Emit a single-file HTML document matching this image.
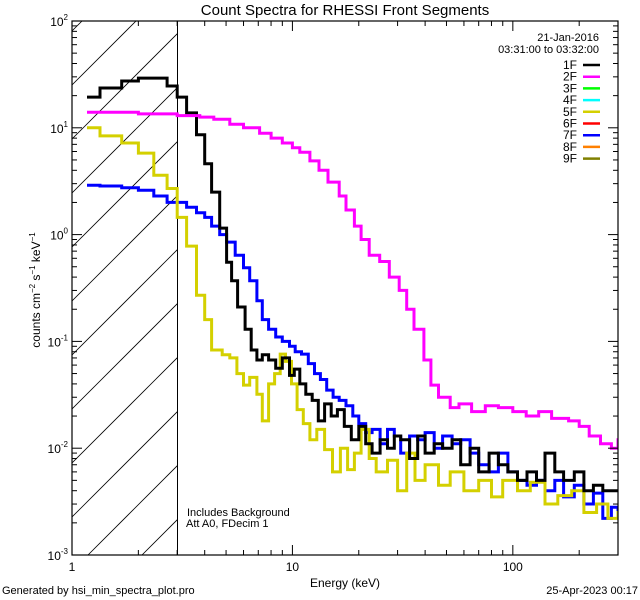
<!DOCTYPE html>
<html><head><meta charset="utf-8"><style>
html,body{margin:0;padding:0;background:#fff;width:640px;height:600px;overflow:hidden;}
svg{display:block;font-family:"Liberation Sans",sans-serif;}
</style></head><body>
<svg id="c" width="640" height="600" viewBox="0 0 640 600">
<defs><clipPath id="hclip"><rect x="72" y="21" width="105.5" height="534"/></clipPath>
<clipPath id="pclip"><rect x="72" y="21" width="546" height="534"/></clipPath></defs>
<text x="345" y="15" font-size="15" text-anchor="middle">Count Spectra for RHESSI Front Segments</text>
<g id="hatch" clip-path="url(#hclip)"></g>
<line x1="177.5" y1="21" x2="177.5" y2="555" stroke="#000" stroke-width="1"/>
<g id="series" clip-path="url(#pclip)"></g>
<rect x="72" y="21" width="546" height="534" fill="none" stroke="#000" stroke-width="1.2"/>
<g id="axes"></g>
<text x="345" y="587" font-size="12" text-anchor="middle">Energy (keV)</text>
<text transform="translate(40,290) rotate(-90)" font-size="12" text-anchor="middle">counts cm<tspan dy="-5" font-size="8">−2</tspan><tspan dy="5"> s</tspan><tspan dy="-5" font-size="8">−1</tspan><tspan dy="5"> keV</tspan><tspan dy="-5" font-size="8">−1</tspan></text>
<text x="599" y="41" font-size="11" text-anchor="end">21-Jan-2016</text>
<text x="599" y="53" font-size="11" text-anchor="end">03:31:00 to 03:32:00</text>
<g id="legend"></g>
<text x="187" y="516" font-size="11">Includes Background</text>
<text x="186" y="527" font-size="11">Att A0, FDecim 1</text>
<text x="2" y="594" font-size="11">Generated by hsi_min_spectra_plot.pro</text>
<text x="638" y="594" font-size="11" text-anchor="end">25-Apr-2023 00:17</text>
</svg>
<script>
const legendLabels=["1F","2F","3F","4F","5F","6F","7F","8F","9F"];
const legendColors=["#000000","#ff00ff","#00ff00","#00ffff","#d4d000","#ff0000","#0000ff","#ff8000","#808000"];
const xTickLabels=["1","10","100"];
const yTickExps=[-3,-2,-1,0,1,2];
// series: 1F black
const e1=[1.17,1.34,1.68,2.0,2.7,3.0,3.31,3.67,4.0,4.3,4.68,5.03,5.3,5.64,6.1,6.5,6.9,7.3,7.8,8.4,9.0,9.7,10.2,10.8,11.5,12.3,13.1,14.0,15.0,16.0,17.2,18.5,20,21.5,23,25,27,29,31,34,37,40,44,48,53,58,64,70,78,86,95,105,116,128,140,155,170,190,210,232,256,280,300];
const v1=[19.4,23.6,27.4,29.2,24.6,19.4,13.8,8.6,4.6,2.5,1.15,0.55,0.37,0.21,0.13,0.083,0.067,0.075,0.067,0.056,0.07,0.048,0.055,0.04,0.032,0.028,0.018,0.026,0.02,0.023,0.016,0.012,0.016,0.011,0.009,0.012,0.01,0.013,0.012,0.008,0.013,0.009,0.011,0.01,0.012,0.007,0.01,0.006,0.009,0.007,0.006,0.005,0.006,0.005,0.009,0.006,0.005,0.006,0.004,0.0045,0.004,0.004,0.004];
// 2F magenta
const e2=[1.17,2.0,3.0,3.8,4.4,5.2,6.0,7.1,8.0,9.0,10.0,10.8,12.0,13.2,14.5,16.3,17.5,19.1,20.5,22.3,24.9,27.5,30.5,33,35.6,39.5,42.5,46,52,57,65,75,86,100,115,131,150,179,200,222,250,280,300];
const v2=[14,13.5,13,12.6,12,10.8,10,8.9,8,7.2,6.5,5.9,4.9,4.0,3.1,2.3,1.7,1.2,0.9,0.64,0.56,0.4,0.30,0.2,0.13,0.067,0.039,0.03,0.024,0.026,0.022,0.025,0.024,0.022,0.02,0.022,0.019,0.018,0.016,0.013,0.011,0.01,0.012];
// 5F yellow
const e5=[1.17,1.34,1.68,2.0,2.35,2.7,3.0,3.31,3.67,4.0,4.3,4.8,5.2,5.6,6.0,6.4,6.9,7.3,7.8,8.3,8.8,9.3,9.9,10.5,11.2,12.0,12.9,14.0,15.2,16.5,17.8,19.1,20.5,22.3,24,27,30,33,36,40,46,52,60,70,80,90,105,120,140,160,185,210,240,270,300];
const v5=[10,8.4,7.2,5.8,3.6,2.7,1.45,0.78,0.27,0.16,0.083,0.075,0.07,0.05,0.039,0.046,0.032,0.018,0.04,0.05,0.076,0.065,0.04,0.023,0.017,0.012,0.015,0.0097,0.006,0.01,0.0063,0.009,0.015,0.008,0.006,0.0077,0.004,0.009,0.005,0.007,0.0045,0.006,0.004,0.005,0.0035,0.005,0.004,0.0048,0.003,0.0036,0.004,0.0025,0.003,0.0022,0.0025];
// 7F blue
const e7=[1.17,1.34,1.68,2.0,2.35,2.7,3.0,3.31,3.67,4.0,4.3,4.68,5.03,5.5,6.0,6.4,6.9,7.3,7.8,8.4,9.0,9.7,10.3,11.0,11.8,12.6,13.4,14.3,15.3,16.3,17.5,18.8,20,21.5,23,25,27,29,31,34,37,40,44,48,53,58,64,70,78,86,95,105,116,128,140,155,170,190,210,232,256,280,300];
const v7=[2.9,2.85,2.75,2.6,2.3,2.0,2.0,1.8,1.6,1.45,1.2,1.0,0.85,0.64,0.49,0.37,0.24,0.16,0.13,0.11,0.1,0.09,0.08,0.076,0.062,0.05,0.044,0.035,0.03,0.028,0.025,0.02,0.017,0.014,0.015,0.011,0.015,0.013,0.009,0.013,0.012,0.014,0.01,0.013,0.011,0.012,0.009,0.007,0.006,0.009,0.006,0.005,0.0045,0.005,0.004,0.005,0.0035,0.0045,0.003,0.0038,0.0022,0.0028,0.0025];
const seriesList=[[e7,v7,"#0000ff","series-7f"],[e5,v5,"#d4d000","series-5f"],[e1,v1,"#000000","series-1f"],[e2,v2,"#ff00ff","series-2f"]];

const NS="http://www.w3.org/2000/svg";
const X0=72,X1=618,Y0=21,Y1=555;
const xs=e=>X0+Math.log10(e)/Math.log10(300)*(X1-X0);
const ys=v=>Y0+(2-Math.log10(v))/5*(Y1-Y0);
function mk(tag,attrs,parent){const el=document.createElementNS(NS,tag);for(const k in attrs)el.setAttribute(k,attrs[k]);parent.appendChild(el);return el;}

// hatch
const hg=document.getElementById('hatch');
for(let c=31;c<760;c+=54){
  const l=mk('line',{x1:X0,y1:c,x2:X0+700,y2:c-700,stroke:'#000','stroke-width':0.8},hg);
  
  
}
// series
const sg=document.getElementById('series');
seriesList.forEach(s=>{
  const [e,v,col,name]=s;let d='';
  for(let i=0;i<e.length;i++){
    const x=xs(e[i]),xn=i+1<e.length?xs(e[i+1]):xs(300)+2,y=ys(v[i]);
    d+=(i?'L':'M')+x.toFixed(1)+','+y.toFixed(1)+'L'+xn.toFixed(1)+','+y.toFixed(1);
  }
  const p=mk('path',{d:d,fill:'none',stroke:col,'stroke-width':3},sg);
  
  
});
// axes ticks
const ag=document.getElementById('axes');
for(let dec=0;dec<3;dec++){for(let m=1;m<10;m++){
  const e=Math.pow(10,dec)*m;if(e>300)break;const x=xs(e);const L=m===1?10:5;
  mk('line',{x1:x,y1:Y1,x2:x,y2:Y1-L,stroke:'#000'},ag);
  mk('line',{x1:x,y1:Y0,x2:x,y2:Y0+L,stroke:'#000'},ag);
}}
xTickLabels.forEach((t,i)=>{const x=xs(Math.pow(10,i));
  const tx=mk('text',{x:x,y:Y1+16,'font-size':12,'text-anchor':'middle'},ag);tx.textContent=t;
  
  });
for(let ex=-3;ex<2;ex++){for(let m=1;m<10;m++){
  const y=ys(Math.pow(10,ex)*m);const L=m===1?10:5;
  mk('line',{x1:X0,y1:y,x2:X0+L,y2:y,stroke:'#000'},ag);
  mk('line',{x1:X1,y1:y,x2:X1-L,y2:y,stroke:'#000'},ag);
}}
yTickExps.forEach(ex=>{const y=ys(Math.pow(10,ex));
  const tx=mk('text',{x:X0-4,y:y+5,'font-size':12,'text-anchor':'end'},ag);
  
  
  tx.innerHTML='10<tspan dy="-6" font-size="8">'+ex+'</tspan>';});
// legend
const lg=document.getElementById('legend');
legendLabels.forEach((t,i)=>{const y=65+i*11.7;
  const tx=mk('text',{x:577,y:y+4,'font-size':12,'text-anchor':'end'},lg);tx.textContent=t;
  
  
  const ln=mk('line',{x1:583,y1:y,x2:600,y2:y,stroke:legendColors[i],'stroke-width':2.5},lg);
  
  
});
</script>
</body></html>
